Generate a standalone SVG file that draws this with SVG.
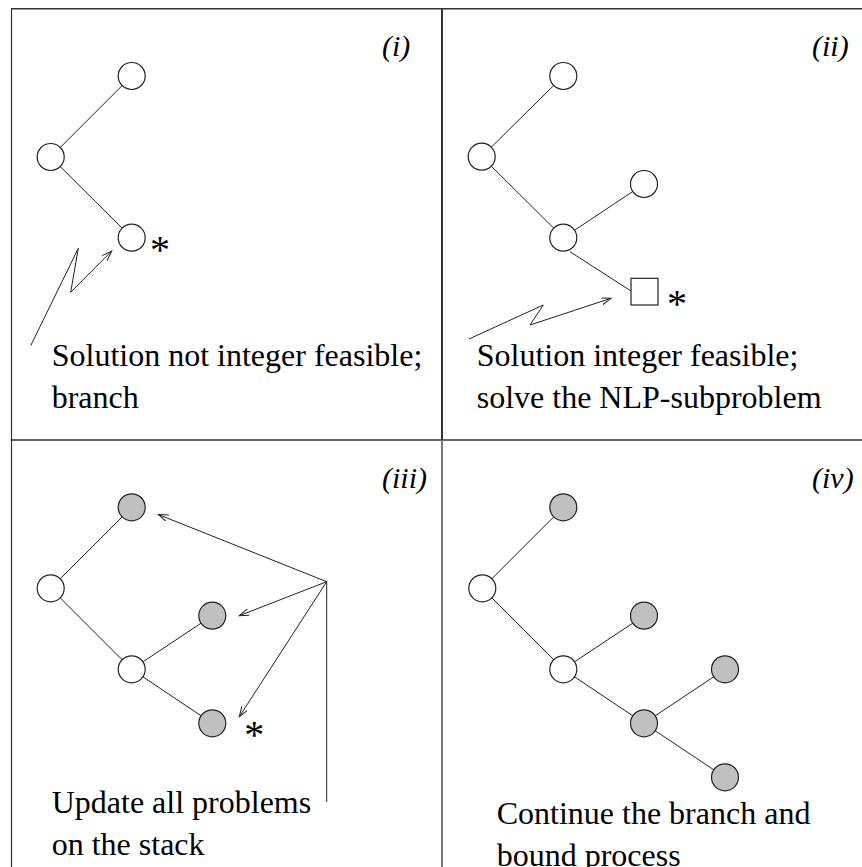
<svg xmlns="http://www.w3.org/2000/svg" width="862" height="867" viewBox="0 0 862 867">
<style>
.frame{stroke:#333;stroke-width:1.5;fill:none}
.edge{stroke:#222;stroke-width:1;fill:none}
.node{stroke:#222;stroke-width:1.2;fill:#fff}
.done{stroke:#222;stroke-width:1.2;fill:#c0c0c0}
.txt{font-family:'Liberation Serif',Tinos,'DejaVu Serif',serif;font-size:32px;fill:#000}
.lab{font-family:'Liberation Serif',Tinos,'DejaVu Serif',serif;font-size:30px;font-style:italic;fill:#000}
.ast{font-family:'Liberation Serif',Tinos,'DejaVu Serif',serif;font-size:40px;fill:#000}
.arr{stroke:#222;stroke-width:1;fill:none;marker-end:url(#ah)}
</style>
<defs>
<marker id="ah" markerUnits="userSpaceOnUse" markerWidth="12" markerHeight="8" refX="10" refY="3.5" orient="auto">
<path d="M0,0 L10,3.5 L0,7" fill="none" stroke="#222" stroke-width="1"/>
</marker>
</defs>
<rect width="862" height="867" fill="#fff"/>
<g id="frame">
<line class="frame" x1="11" y1="8.75" x2="862" y2="8.75"/>
<line class="frame" x1="11.5" y1="8" x2="11.5" y2="867" style="stroke-width:1.2"/>
<line class="frame" x1="11" y1="440" x2="862" y2="440"/>
<line x1="442" y1="8" x2="442" y2="440" stroke="#333" stroke-width="2"/>
<line x1="442" y1="440" x2="442" y2="867" stroke="#777" stroke-width="2"/>
</g>
<g id="connectors">
<line class="edge" x1="50.7" y1="157" x2="131.7" y2="76"/>
<line class="edge" x1="50.7" y1="157" x2="131.7" y2="237.7"/>
<polyline class="arr" points="30.7,345.7 78.3,248.3 70.7,292.3 111.7,251"/>
<line class="edge" x1="481.7" y1="156.7" x2="563.3" y2="76"/>
<line class="edge" x1="481.7" y1="156.7" x2="563.3" y2="237.7"/>
<line class="edge" x1="563.3" y1="237.7" x2="644" y2="184"/>
<line class="edge" x1="570" y1="251.7" x2="631" y2="291"/>
<polyline class="arr" points="469,339 543.3,305 530,325 611,298.3"/>
<line class="edge" x1="50.7" y1="588.3" x2="131.7" y2="507.3"/>
<line class="edge" x1="50.7" y1="588.3" x2="131.7" y2="669.3"/>
<line class="edge" x1="131.7" y1="669.3" x2="212.3" y2="615.7"/>
<line class="edge" x1="131.7" y1="669.3" x2="212.3" y2="723.3"/>
<line class="edge" x1="326.7" y1="581.7" x2="326.7" y2="802"/>
<line class="arr" x1="326.7" y1="581.7" x2="158.3" y2="514.5"/>
<line class="arr" x1="326.7" y1="581.7" x2="239.3" y2="615.7"/>
<line class="arr" x1="326.7" y1="581.7" x2="239.3" y2="716.7"/>
<line class="edge" x1="482.3" y1="588.3" x2="563.3" y2="507.3"/>
<line class="edge" x1="482.3" y1="588.3" x2="563.3" y2="669.3"/>
<line class="edge" x1="563.3" y1="669.3" x2="644" y2="615.7"/>
<line class="edge" x1="563.3" y1="669.3" x2="644" y2="723.3"/>
<line class="edge" x1="644" y1="723.3" x2="725" y2="669.3"/>
<line class="edge" x1="644" y1="723.3" x2="725" y2="777.3"/>
</g>
<g id="panel-i">
<circle id="i-top" class="node" cx="131.7" cy="76" r="13.5"/>
<circle id="i-root" class="node" cx="50.7" cy="157" r="13.5"/>
<circle id="i-cur" class="node" cx="131.7" cy="237.7" r="13.5"/>
<text class="ast" x="160" y="263" text-anchor="middle">*</text>
<text class="lab" x="382" y="55.7">(i)</text>
<text class="txt" x="51.7" y="365.5">Solution not integer feasible;</text>
<text class="txt" x="51.7" y="408">branch</text>
</g>
<g id="panel-ii">
<circle id="ii-top" class="node" cx="563.3" cy="76" r="13.5"/>
<circle id="ii-root" class="node" cx="481.7" cy="156.7" r="13.5"/>
<circle id="ii-mid" class="node" cx="644" cy="184" r="13.5"/>
<circle id="ii-cur" class="node" cx="563.3" cy="237.7" r="13.5"/>
<rect id="ii-sq" class="node" x="631" y="278.3" width="27" height="26.7"/>
<text class="ast" x="677" y="316.7" text-anchor="middle">*</text>
<text class="lab" x="812" y="55.7">(ii)</text>
<text class="txt" x="476.7" y="365.5">Solution integer feasible;</text>
<text class="txt" x="476.7" y="408">solve the NLP-subproblem</text>
</g>
<g id="panel-iii">
<circle id="iii-top" class="done" cx="131.7" cy="507.3" r="13.5"/>
<circle id="iii-root" class="node" cx="50.7" cy="588.3" r="13.5"/>
<circle id="iii-mid" class="done" cx="212.3" cy="615.7" r="13.5"/>
<circle id="iii-cur" class="node" cx="131.7" cy="669.3" r="13.5"/>
<circle id="iii-bot" class="done" cx="212.3" cy="723.3" r="13.5"/>
<text class="ast" x="254.3" y="748.3" text-anchor="middle">*</text>
<text class="lab" x="382" y="487.5">(iii)</text>
<text class="txt" x="51.7" y="812.5">Update all problems</text>
<text class="txt" x="51.7" y="855">on the stack</text>
</g>
<g id="panel-iv">
<circle id="iv-top" class="done" cx="563.3" cy="507.3" r="13.5"/>
<circle id="iv-root" class="node" cx="482.3" cy="588.3" r="13.5"/>
<circle id="iv-mid" class="done" cx="644" cy="615.7" r="13.5"/>
<circle id="iv-cur" class="node" cx="563.3" cy="669.3" r="13.5"/>
<circle id="iv-low" class="done" cx="644" cy="723.3" r="13.5"/>
<circle id="iv-right" class="done" cx="725" cy="669.3" r="13.5"/>
<circle id="iv-bot" class="done" cx="725" cy="777.3" r="13.5"/>
<text class="lab" x="812" y="487.5">(iv)</text>
<text class="txt" x="496.7" y="823.5">Continue the branch and</text>
<text class="txt" x="496.7" y="865.5">bound process</text>
</g>
</svg>
